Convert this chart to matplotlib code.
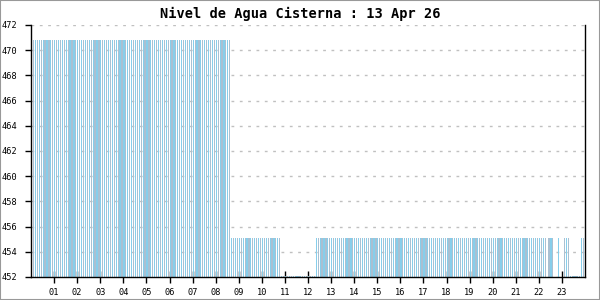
import numpy as np
import matplotlib
matplotlib.use("Agg")
import matplotlib.pyplot as plt
from matplotlib.patches import Rectangle

# 5-minute readings for the day, stored as runs of (count, level)
sample_minutes = 5
run_counts = [104, 26, 18, 120, 1, 3, 2, 1, 2, 3, 6, 2]
run_levels = [470.8, 455.1, 452.08, 455.1, np.nan, 455.1, np.nan, 455.1,
              np.nan, 455.1, 452.08, 455.1]

hour_labels = ["%02d" % h for h in range(1, 24)]
y_ticks = [452, 454, 456, 458, 460, 462, 464, 466, 468, 470, 472]
title = "Nivel de Agua Cisterna : 13 Apr 26"

levels = np.repeat(run_levels, run_counts)
hours = np.arange(len(levels)) * sample_minutes / 60.0

fig = plt.figure(figsize=(6, 3), dpi=100)
fig.patches.append(Rectangle((0, 0), 1, 1, transform=fig.transFigure,
                             fill=False, edgecolor="#999999", linewidth=1.5))
ax = fig.add_axes([31 / 600, 1 - 277 / 300, 554 / 600, 252 / 300])

step = sample_minutes / 60.0
# alternate bar shades like the striped original
shades = np.where(np.arange(len(levels)) % 2 == 0, "#87ceeb", "#a9c0d2")
ax.bar(hours, levels, width=step * 0.62, align="edge", color=shades,
       linewidth=0, antialiased=False, zorder=2)

ax.set_xlim(0, 24)
ax.set_ylim(452, 472)
ax.set_yticks(y_ticks)
ax.set_yticklabels([str(v) for v in y_ticks])
ax.set_xticks(range(1, 24))
ax.set_xticklabels(hour_labels)

ax.yaxis.grid(True, color="#c0c0c0", linestyle=(0, (2, 4)), linewidth=1, zorder=1)
ax.set_axisbelow(True)

for lab in ax.get_xticklabels() + ax.get_yticklabels():
    lab.set_fontfamily("DejaVu Sans Mono")
    lab.set_fontsize(6.2)
ax.tick_params(axis="y", direction="out", length=4, width=1, pad=6)
ax.tick_params(axis="x", direction="inout", length=8, width=1, pad=4)

ax.spines["top"].set_visible(False)
ax.spines["left"].set_color("black")
ax.spines["right"].set_color("black")
ax.spines["bottom"].set_linestyle((0, (1, 1)))
for s in ax.spines.values():
    s.set_linewidth(1)

fig.text(0.5, 1 - 14 / 300, title, ha="center", va="center",
         fontfamily="DejaVu Sans Mono", fontweight="bold", fontsize=9.8)

fig.savefig("out.png", dpi=100)
